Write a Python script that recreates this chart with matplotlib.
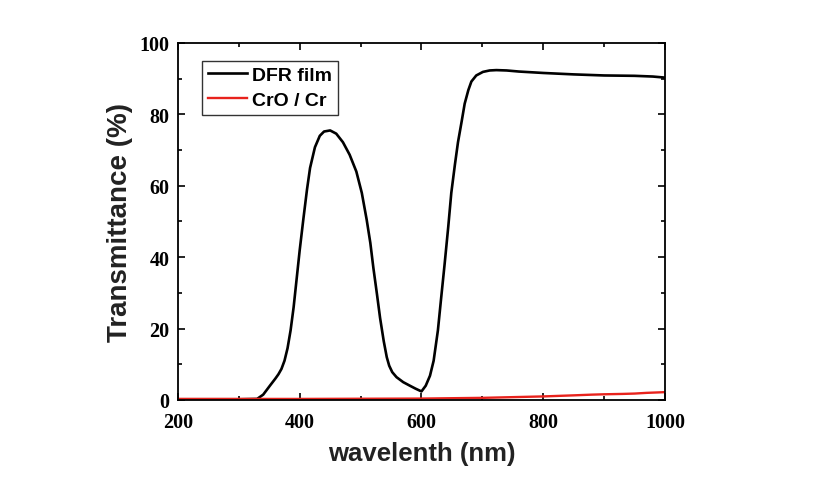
import matplotlib.pyplot as plt
from matplotlib.ticker import MultipleLocator

# DFR film transmittance curve
dfr_wl = [200, 250, 300, 330, 340, 351, 360, 365, 370, 375, 380, 385, 390, 395, 400,
          406, 412, 417, 425, 433, 440, 450, 460, 471, 482, 493, 502, 510, 516, 521,
          527, 532, 538, 543, 547, 552, 559, 570, 581, 590, 600, 607, 614, 620, 627,
          632, 638, 644, 649, 655, 660, 666, 671, 677, 682, 690, 701, 712, 723, 740,
          760, 800, 850, 900, 950, 980, 1000]
dfr_t = [0.2, 0.2, 0.2, 0.3, 1.5, 4.0, 6.0, 7.2, 8.7, 11.0, 14.5, 19.5, 26.0, 34.0, 42.0,
         50.7, 59.0, 65.0, 70.8, 74.0, 75.2, 75.5, 74.6, 72.2, 68.7, 64.0, 58.0, 50.5, 44.0, 37.0,
         29.5, 23.0, 16.5, 12.0, 9.6, 7.8, 6.4, 5.0, 4.0, 3.2, 2.4, 4.0, 6.8, 11.0, 19.5,
         28.0, 38.0, 48.5, 58.0, 66.0, 72.2, 78.0, 83.0, 86.8, 89.2, 90.9, 91.9, 92.3, 92.4, 92.3,
         92.0, 91.6, 91.2, 90.9, 90.8, 90.6, 90.3]

# CrO / Cr transmittance
cr_wl = [200, 300, 400, 500, 600, 650, 700, 750, 800, 850, 880, 900, 930, 950, 970, 1000]
cr_t = [0.3, 0.3, 0.3, 0.35, 0.4, 0.5, 0.6, 0.8, 1.0, 1.3, 1.5, 1.6, 1.7, 1.8, 2.0, 2.2]

x_ticks = [200, 400, 600, 800, 1000]
y_ticks = [0, 20, 40, 60, 80, 100]

fig = plt.figure(figsize=(8.16, 5.02), dpi=100)
ax = fig.add_axes([0.2181, 0.2012, 0.5968, 0.7112])

ax.plot(dfr_wl, dfr_t, color='black', lw=1.9, label='DFR film')
ax.plot(cr_wl, cr_t, color='#e8221c', lw=1.7, label='CrO / Cr')

ax.set_xlim(200, 1000)
ax.set_ylim(0, 100)
ax.set_xticks(x_ticks)
ax.set_yticks(y_ticks)
ax.xaxis.set_minor_locator(MultipleLocator(100))
ax.yaxis.set_minor_locator(MultipleLocator(10))
ax.tick_params(which='both', direction='in', top=True, right=True, width=1.2)
ax.tick_params(which='major', length=5)
ax.tick_params(which='minor', length=3)
ax.tick_params(axis='x', pad=9)
ax.tick_params(axis='y', pad=6)
for s in ax.spines.values():
    s.set_linewidth(1.3)

for lab in ax.get_xticklabels() + ax.get_yticklabels():
    lab.set_family('Liberation Serif')
    lab.set_fontweight('bold')
    lab.set_fontsize(14.5)

ax.set_xlabel('wavelenth (nm)', family='Liberation Sans', fontweight='bold',
              fontsize=18.5, color='#222222', labelpad=6)
ax.set_ylabel('Transmittance (%)', family='Liberation Sans', fontweight='bold',
              fontsize=20, color='#222222', labelpad=5)

leg = ax.legend(loc='upper left', bbox_to_anchor=(0.049, 0.95), borderaxespad=0,
                fancybox=False, edgecolor='black', handlelength=2.0, handletextpad=0.3,
                borderpad=0.3, labelspacing=0.35,
                prop={'family': 'Liberation Sans', 'weight': 'bold', 'size': 14})
leg.get_frame().set_linewidth(1.0)

fig.savefig('out.png', dpi=100)
